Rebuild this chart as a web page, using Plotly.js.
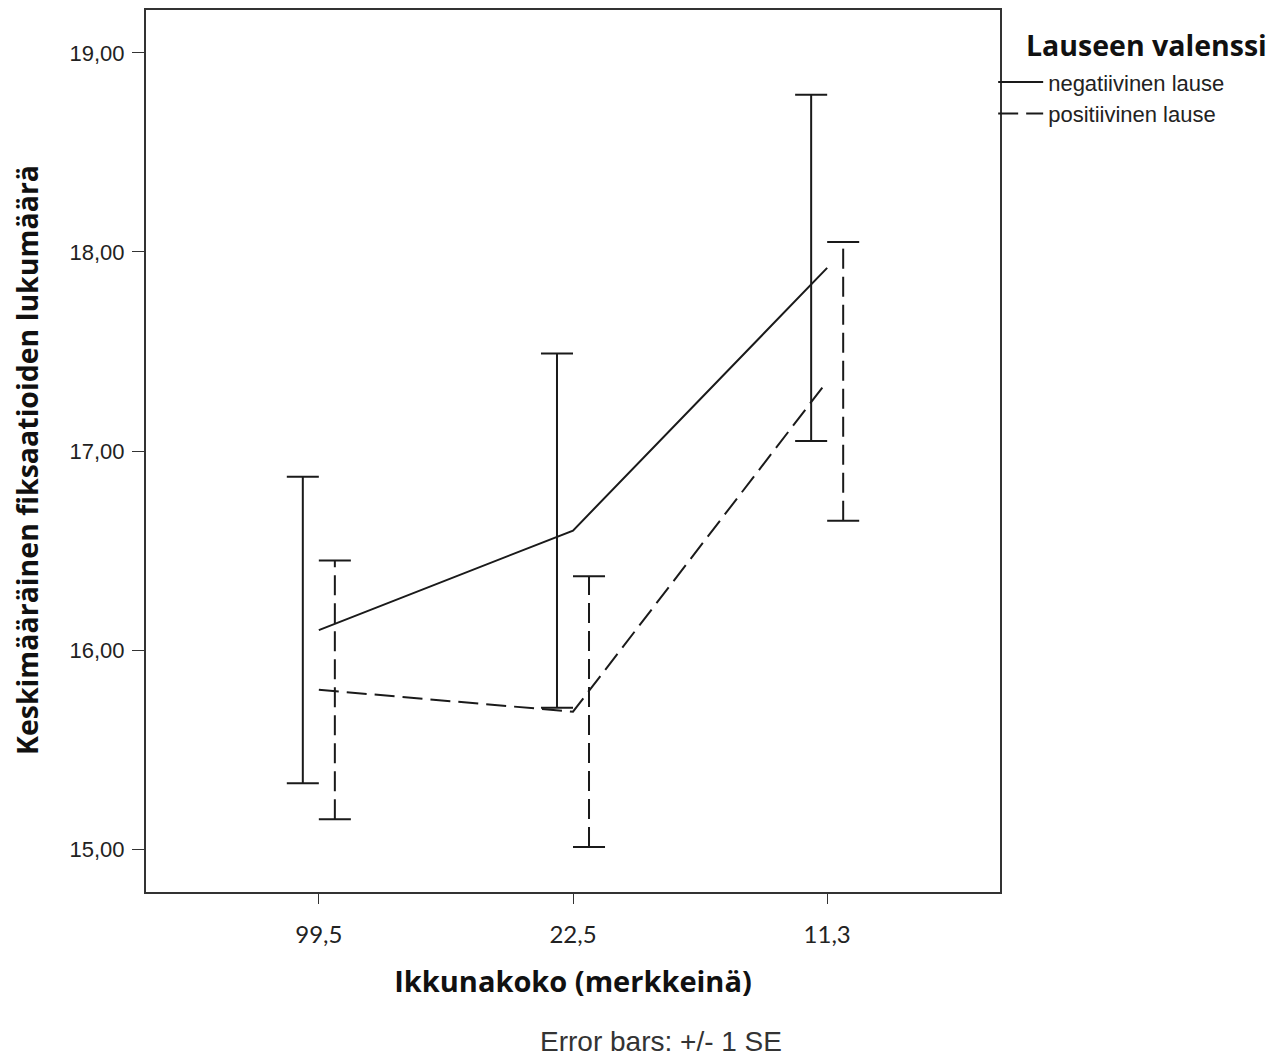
<!DOCTYPE html>
<html><head><meta charset="utf-8">
<script src="https://cdn.plot.ly/plotly-3.0.1.min.js"></script>
<style>body{margin:0;background:#fff}#chart{width:1279px;height:1059px}</style>
</head><body><div id="chart"></div>
<script>
const categories = ['99,5','22,5','11,3'];
const seriesNames = ['negatiivinen lause','positiivinen lause'];
const negMean = [16.10, 16.60, 17.92];
const negSE = [0.77, 0.89, 0.87];
const posMean = [15.80, 15.69, 17.35];
const posSE = [0.65, 0.68, 0.70];
const yTicks = [15, 16, 17, 18, 19];

const idx = categories.map((c,i)=>i);
const offset = 0.063, cap = 0.063;
const DASH = '20px,8px';
const INK = '#1a1a1a';

function stemTrace(means, ses, off, dash){
  const x=[], y=[];
  means.forEach((m,i)=>{
    const cx = idx[i]+off;
    x.push(cx, cx, null);
    y.push(m-ses[i], m+ses[i], null);
  });
  return {x, y, mode:'lines', line:{color:INK, width:2, dash}, showlegend:false, hoverinfo:'skip'};
}
function capTrace(means, ses, off){
  const x=[], y=[];
  means.forEach((m,i)=>{
    const cx = idx[i]+off, lo = m-ses[i], hi = m+ses[i];
    x.push(cx-cap, cx+cap, null, cx-cap, cx+cap, null);
    y.push(hi, hi, null, lo, lo, null);
  });
  return {x, y, mode:'lines', line:{color:INK, width:2}, showlegend:false, hoverinfo:'skip'};
}

const data = [
  {x: idx, y: negMean, mode:'lines', name: seriesNames[0], line:{color:INK, width:2}},
  {x: idx, y: posMean, mode:'lines', name: seriesNames[1], line:{color:INK, width:2, dash:DASH}},
  stemTrace(negMean, negSE, -offset, 'solid'),
  capTrace(negMean, negSE, -offset),
  stemTrace(posMean, posSE, offset, DASH),
  capTrace(posMean, posSE, offset)
];

const layout = {
  width:1279, height:1059,
  margin:{l:146, r:279, t:10, b:167},
  paper_bgcolor:'#fff', plot_bgcolor:'#fff',
  separators:', ',
  font:{family:'Liberation Sans, Arial, sans-serif', color:'#222'},
  xaxis:{
    range:[-0.68, 2.68], tickvals: idx, ticktext: categories,
    showgrid:false, zeroline:false, showline:true, mirror:true,
    linecolor:'#333', linewidth:2, ticks:'outside', ticklen:10, tickcolor:'#333', tickwidth:1,
    ticklabelstandoff:10,
    tickfont:{size:24, family:'Lato, sans-serif', color:'#222'},
    title:{text:'<b>Ikkunakoko (merkkeinä)</b>', font:{size:29, family:'Open Sans, sans-serif', color:'#111'}, standoff:25}
  },
  yaxis:{
    range:[14.784, 19.216], tickvals: yTicks, tickformat:'.2f',
    showgrid:false, zeroline:false, showline:true, mirror:true,
    linecolor:'#333', linewidth:2, ticks:'outside', ticklen:12, tickcolor:'#333', tickwidth:1,
    ticklabelstandoff:3,
    tickfont:{size:22, color:'#222'}
  },
  legend:{
    x:0.992, y:0.942, xanchor:'left', yanchor:'top',
    font:{size:22, family:'Liberation Sans, Arial, sans-serif', color:'#222'}, itemwidth:45, tracegroupgap:0, bgcolor:'rgba(0,0,0,0)'
  },
  annotations:[{
    text:'<b>Keskimääräinen fiksaatioiden lukumäärä</b>', xref:'paper', yref:'paper',
    x:(27-146)/854, y:1-(460-10)/882, xanchor:'center', yanchor:'middle', textangle:-90, showarrow:false,
    font:{size:28.5, family:'Open Sans, sans-serif', color:'#111'}
  },{
    text:'<b>Lauseen valenssi</b>', xref:'paper', yref:'paper', x:(1024-146)/854, y:1-(45-10)/882,
    xanchor:'left', yanchor:'middle', showarrow:false,
    font:{size:28.5, family:'Open Sans, sans-serif', color:'#111'}
  },{
    text:'Error bars: +/- 1 SE', xref:'paper', yref:'paper', x:0.603, y:-0.169,
    xanchor:'center', yanchor:'middle', showarrow:false,
    font:{size:28, family:'Liberation Sans, Arial, sans-serif', color:'#333'}
  }]
};
Plotly.newPlot('chart', data, layout, {displayModeBar:false});
</script></body></html>
